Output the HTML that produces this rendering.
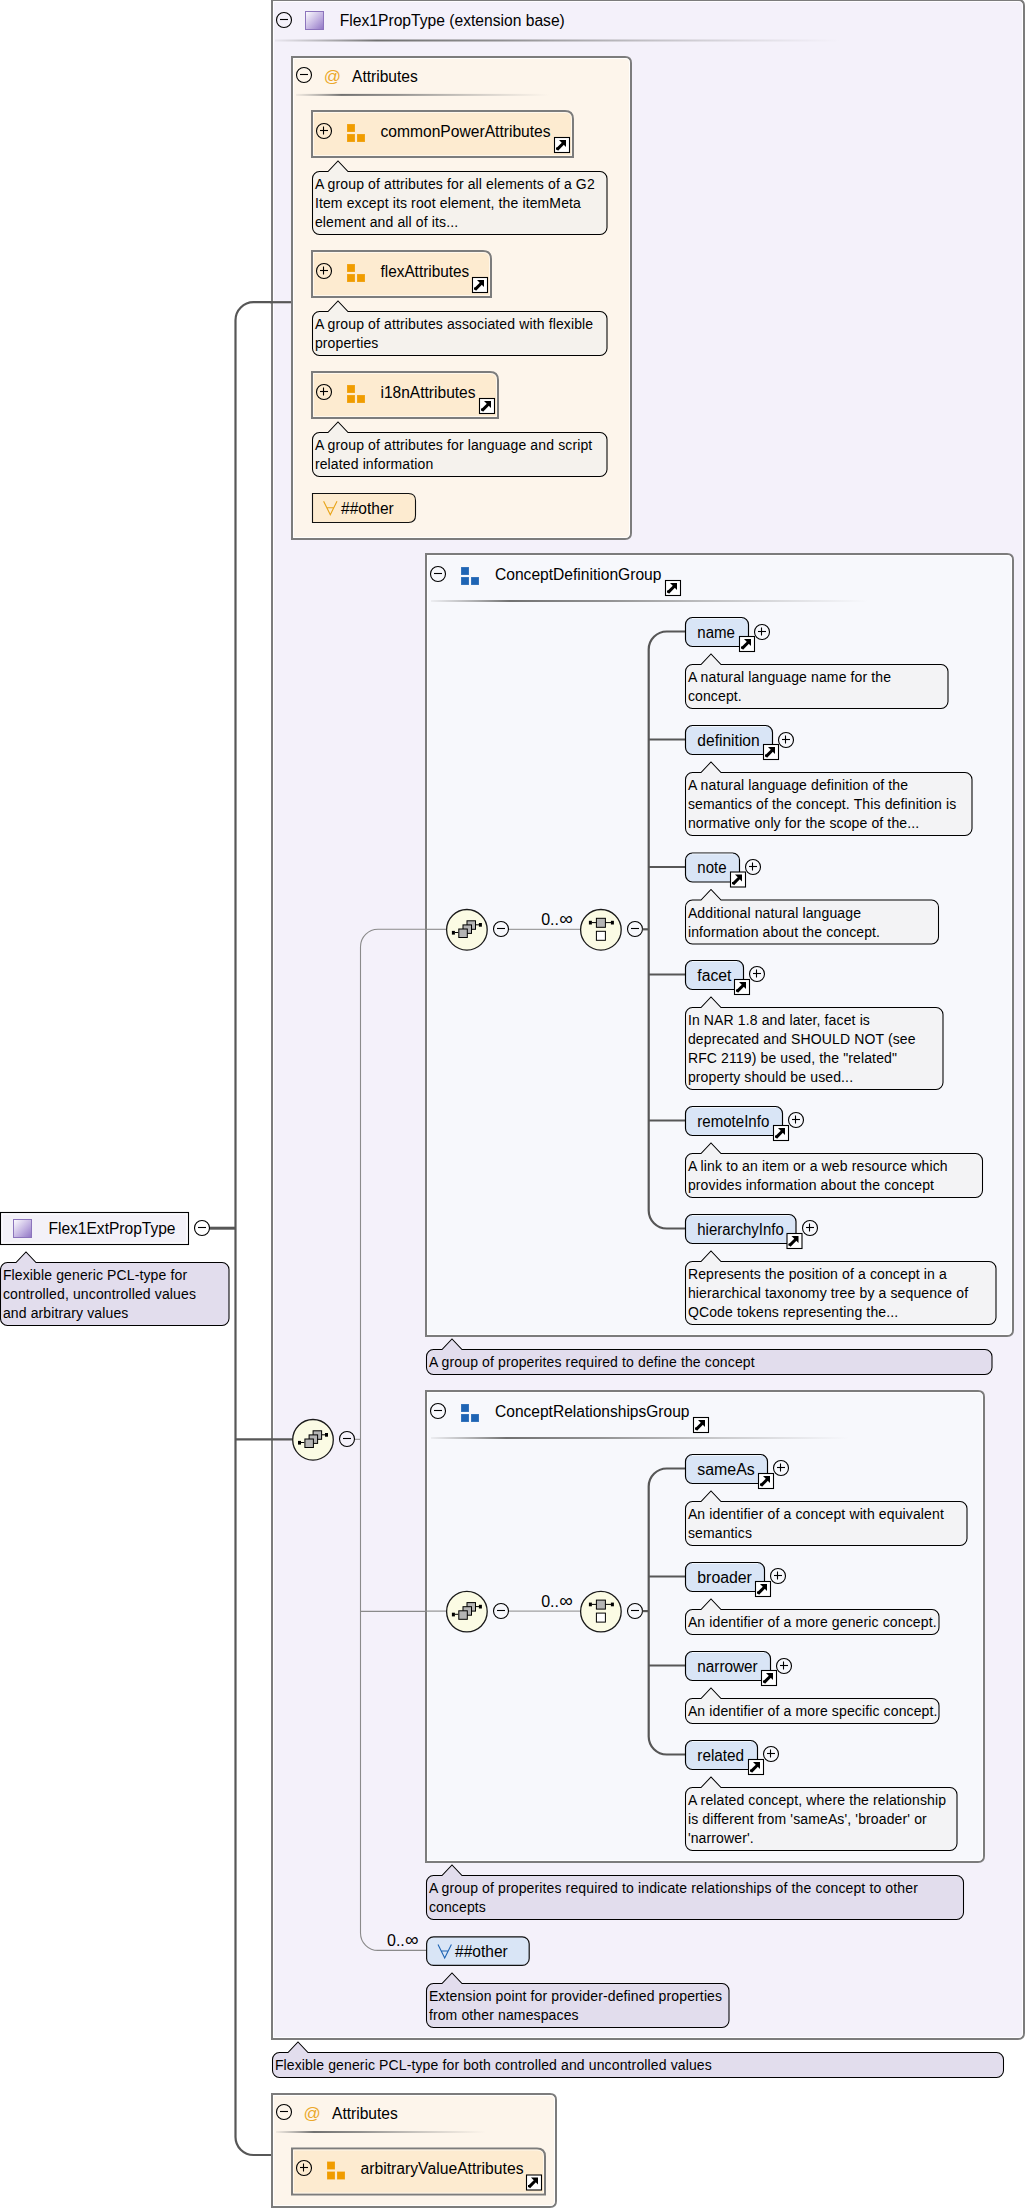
<!DOCTYPE html>
<html><head><meta charset="utf-8"><title>Flex1ExtPropType</title>
<style>
html,body{margin:0;padding:0;background:#fff;width:1026px;height:2209px;overflow:hidden}
svg{display:block}
text{font-family:"Liberation Sans",sans-serif;white-space:pre}
</style></head><body>
<svg width="1026" height="2209" viewBox="0 0 1026 2209">
<defs>
<linearGradient id="gradType" x1="0" y1="0" x2="1" y2="1">
<stop offset="0" stop-color="#ffffff"/><stop offset="0.55" stop-color="#c4b4e2"/><stop offset="1" stop-color="#8f74c4"/>
</linearGradient>
<linearGradient id="gradSep" x1="0" y1="0" x2="1" y2="0">
<stop offset="0" stop-color="#888" stop-opacity="0.1"/><stop offset="0.18" stop-color="#6a6a6a" stop-opacity="0.95"/>
<stop offset="0.4" stop-color="#777" stop-opacity="0.8"/><stop offset="1" stop-color="#999" stop-opacity="0"/>
</linearGradient>
</defs>
<path d="M291,302.2 H253.5 A18,18 0 0 0 235.5,320.2 V2137 A18,18 0 0 0 253.5,2155 H272" fill="none" stroke="#575757" stroke-width="2.2"/>
<path d="M209.5,1228.2 H236" stroke="#575757" stroke-width="3"/>
<rect x="0.5" y="1212.5" width="188" height="32" fill="#f3f1f8" stroke="#000" stroke-width="1.1"/>
<rect x="2" y="1214" width="185" height="29" fill="none" stroke="#fff" stroke-width="1"/>
<rect x="13.5" y="1219.5" width="18" height="18" fill="url(#gradType)" stroke="#8c74bc" stroke-width="1"/>
<text x="48.5" y="1234" font-size="16" letter-spacing="0" fill="#000" textLength="127.0" lengthAdjust="spacingAndGlyphs" >Flex1ExtPropType</text>
<circle cx="202" cy="1228" r="7.5" fill="none" stroke="#000" stroke-width="1.1"/>
<path d="M198,1227.5 H206" stroke="#000" stroke-width="1.1"/>
<path d="M7.5,1262.5 H16 L26,1252.0 L36,1262.5 H222.0 A7,7 0 0 1 229.0,1269.5 V1318.5 A7,7 0 0 1 222.0,1325.5 H7.5 A7,7 0 0 1 0.5,1318.5 V1269.5 A7,7 0 0 1 7.5,1262.5 Z" fill="#e2dded" stroke="#000" stroke-width="1.05"/>
<text x="2.9" y="1280.2" font-size="14" letter-spacing="0.13" fill="#000" >Flexible generic PCL-type for</text>
<text x="2.9" y="1299.2" font-size="14" letter-spacing="0.13" fill="#000" >controlled, uncontrolled values</text>
<text x="2.9" y="1318.2" font-size="14" letter-spacing="0.13" fill="#000" >and arbitrary values</text>
<path d="M272,0 L1018,0 Q1024,0 1024,6 L1024,2033 Q1024,2039 1018,2039 L272,2039 L272,0 Z" fill="#f4f1fa" stroke="#7c7c7c" stroke-width="2"/>
<path d="M273.5,1.5 L1018.0,1.5 Q1022.5,1.5 1022.5,6.0 L1022.5,2033.0 Q1022.5,2037.5 1018.0,2037.5 L273.5,2037.5 L273.5,1.5 Z" fill="none" stroke="#ffffff" stroke-opacity="0.85" stroke-width="1"/>
<circle cx="284" cy="20" r="7.5" fill="none" stroke="#000" stroke-width="1.1"/>
<path d="M280,19.5 H288" stroke="#000" stroke-width="1.1"/>
<rect x="305.5" y="11.5" width="18" height="18" fill="url(#gradType)" stroke="#8c74bc" stroke-width="1"/>
<text x="339.8" y="26" font-size="16" letter-spacing="0" fill="#000" textLength="225.0" lengthAdjust="spacingAndGlyphs" >Flex1PropType (extension base)</text>
<rect x="275" y="39.5" width="565" height="2" fill="url(#gradSep)"/>
<path d="M270,302.2 H291" stroke="#575757" stroke-width="2.2"/>
<path d="M292,57 L625,57 Q631,57 631,63 L631,533 Q631,539 625,539 L292,539 L292,57 Z" fill="#fdf5eb" stroke="#7c7c7c" stroke-width="2"/>
<path d="M293.5,58.5 L625.0,58.5 Q629.5,58.5 629.5,63.0 L629.5,533.0 Q629.5,537.5 625.0,537.5 L293.5,537.5 L293.5,58.5 Z" fill="none" stroke="#ffffff" stroke-opacity="0.85" stroke-width="1"/>
<circle cx="304" cy="75" r="7.5" fill="none" stroke="#000" stroke-width="1.1"/>
<path d="M300,74.5 H308" stroke="#000" stroke-width="1.1"/>
<text x="323.8" y="82.3" font-size="17" letter-spacing="0" fill="#eba82a" >@</text>
<text x="352" y="82.2" font-size="16" letter-spacing="0" fill="#000" textLength="65.8" lengthAdjust="spacingAndGlyphs" >Attributes</text>
<rect x="296" y="93.9" width="253" height="2" fill="url(#gradSep)"/>
<path d="M312,111 L565,111 Q573,111 573,119 L573,157 L312,157 L312,111 Z" fill="#fdebd0" stroke="#7c7c7c" stroke-width="2"/>
<path d="M313.5,112.5 L565.0,112.5 Q571.5,112.5 571.5,119.0 L571.5,155.5 L313.5,155.5 L313.5,112.5 Z" fill="none" stroke="#fff" stroke-opacity="0.6" stroke-width="1"/>
<circle cx="324" cy="131" r="7.5" fill="none" stroke="#000" stroke-width="1.1"/>
<path d="M320,130.5 H328" stroke="#000" stroke-width="1.1"/>
<path d="M323.5,126.5 V134.5" stroke="#000" stroke-width="1.1"/>
<rect x="347.5" y="124.5" width="7" height="7" fill="#f09c00" stroke="#f09c00" stroke-opacity="0.8" stroke-width="1"/>
<rect x="347.5" y="134.5" width="7" height="7" fill="#f09c00" stroke="#f09c00" stroke-opacity="0.8" stroke-width="1"/>
<rect x="357.5" y="134.5" width="7" height="7" fill="#f09c00" stroke="#f09c00" stroke-opacity="0.8" stroke-width="1"/>
<text x="380.5" y="136.8" font-size="16" letter-spacing="0" fill="#000" textLength="170.1" lengthAdjust="spacingAndGlyphs" >commonPowerAttributes</text>
<rect x="554.5" y="137.5" width="15" height="15" fill="#fff" stroke="#000" stroke-width="1.1"/>
<path d="M559,140 H566 V147 Z" fill="#000"/>
<path d="M557,149.6 L563.3,143.3" stroke="#000" stroke-width="3" stroke-linecap="butt"/>
<rect x="556" y="147.5" width="2.2" height="2.2" fill="#000"/>
<path d="M319.5,171.5 H328 L338,161.0 L348,171.5 H600.0 A7,7 0 0 1 607.0,178.5 V227.5 A7,7 0 0 1 600.0,234.5 H319.5 A7,7 0 0 1 312.5,227.5 V178.5 A7,7 0 0 1 319.5,171.5 Z" fill="#f5f2ed" stroke="#000" stroke-width="1.05"/>
<text x="314.9" y="189.2" font-size="14" letter-spacing="0.13" fill="#000" >A group of attributes for all elements of a G2</text>
<text x="314.9" y="208.2" font-size="14" letter-spacing="0.13" fill="#000" >Item except its root element, the itemMeta</text>
<text x="314.9" y="227.2" font-size="14" letter-spacing="0.13" fill="#000" >element and all of its...</text>
<path d="M312,251 L483,251 Q491,251 491,259 L491,297 L312,297 L312,251 Z" fill="#fdebd0" stroke="#7c7c7c" stroke-width="2"/>
<path d="M313.5,252.5 L483.0,252.5 Q489.5,252.5 489.5,259.0 L489.5,295.5 L313.5,295.5 L313.5,252.5 Z" fill="none" stroke="#fff" stroke-opacity="0.6" stroke-width="1"/>
<circle cx="324" cy="271" r="7.5" fill="none" stroke="#000" stroke-width="1.1"/>
<path d="M320,270.5 H328" stroke="#000" stroke-width="1.1"/>
<path d="M323.5,266.5 V274.5" stroke="#000" stroke-width="1.1"/>
<rect x="347.5" y="264.5" width="7" height="7" fill="#f09c00" stroke="#f09c00" stroke-opacity="0.8" stroke-width="1"/>
<rect x="347.5" y="274.5" width="7" height="7" fill="#f09c00" stroke="#f09c00" stroke-opacity="0.8" stroke-width="1"/>
<rect x="357.5" y="274.5" width="7" height="7" fill="#f09c00" stroke="#f09c00" stroke-opacity="0.8" stroke-width="1"/>
<text x="380.5" y="276.8" font-size="16" letter-spacing="0" fill="#000" textLength="88.7" lengthAdjust="spacingAndGlyphs" >flexAttributes</text>
<rect x="472.5" y="277.5" width="15" height="15" fill="#fff" stroke="#000" stroke-width="1.1"/>
<path d="M477,280 H484 V287 Z" fill="#000"/>
<path d="M475,289.6 L481.3,283.3" stroke="#000" stroke-width="3" stroke-linecap="butt"/>
<rect x="474" y="287.5" width="2.2" height="2.2" fill="#000"/>
<path d="M319.5,311.5 H328 L338,301.0 L348,311.5 H600.0 A7,7 0 0 1 607.0,318.5 V348.5 A7,7 0 0 1 600.0,355.5 H319.5 A7,7 0 0 1 312.5,348.5 V318.5 A7,7 0 0 1 319.5,311.5 Z" fill="#f5f2ed" stroke="#000" stroke-width="1.05"/>
<text x="314.9" y="329.2" font-size="14" letter-spacing="0.13" fill="#000" >A group of attributes associated with flexible</text>
<text x="314.9" y="348.2" font-size="14" letter-spacing="0.13" fill="#000" >properties</text>
<path d="M312,372 L490,372 Q498,372 498,380 L498,418 L312,418 L312,372 Z" fill="#fdebd0" stroke="#7c7c7c" stroke-width="2"/>
<path d="M313.5,373.5 L490.0,373.5 Q496.5,373.5 496.5,380.0 L496.5,416.5 L313.5,416.5 L313.5,373.5 Z" fill="none" stroke="#fff" stroke-opacity="0.6" stroke-width="1"/>
<circle cx="324" cy="392" r="7.5" fill="none" stroke="#000" stroke-width="1.1"/>
<path d="M320,391.5 H328" stroke="#000" stroke-width="1.1"/>
<path d="M323.5,387.5 V395.5" stroke="#000" stroke-width="1.1"/>
<rect x="347.5" y="385.5" width="7" height="7" fill="#f09c00" stroke="#f09c00" stroke-opacity="0.8" stroke-width="1"/>
<rect x="347.5" y="395.5" width="7" height="7" fill="#f09c00" stroke="#f09c00" stroke-opacity="0.8" stroke-width="1"/>
<rect x="357.5" y="395.5" width="7" height="7" fill="#f09c00" stroke="#f09c00" stroke-opacity="0.8" stroke-width="1"/>
<text x="380.5" y="397.8" font-size="16" letter-spacing="0" fill="#000" textLength="95.0" lengthAdjust="spacingAndGlyphs" >i18nAttributes</text>
<rect x="479.5" y="398.5" width="15" height="15" fill="#fff" stroke="#000" stroke-width="1.1"/>
<path d="M484,401 H491 V408 Z" fill="#000"/>
<path d="M482,410.6 L488.3,404.3" stroke="#000" stroke-width="3" stroke-linecap="butt"/>
<rect x="481" y="408.5" width="2.2" height="2.2" fill="#000"/>
<path d="M319.5,432.5 H328 L338,422.0 L348,432.5 H600.0 A7,7 0 0 1 607.0,439.5 V469.5 A7,7 0 0 1 600.0,476.5 H319.5 A7,7 0 0 1 312.5,469.5 V439.5 A7,7 0 0 1 319.5,432.5 Z" fill="#f5f2ed" stroke="#000" stroke-width="1.05"/>
<text x="314.9" y="450.2" font-size="14" letter-spacing="0.13" fill="#000" >A group of attributes for language and script</text>
<text x="314.9" y="469.2" font-size="14" letter-spacing="0.13" fill="#000" >related information</text>
<path d="M312.5,493.5 L408.5,493.5 Q415.5,493.5 415.5,500.5 L415.5,515.5 Q415.5,522.5 408.5,522.5 L312.5,522.5 L312.5,493.5 Z" fill="#fdebd0" stroke="#111" stroke-width="1.1"/>
<path d="M323.6,501.2 L330.3,514.7 L337.0,501.2 M326.8,507.7 H333.8" fill="none" stroke="#e8a317" stroke-width="1.1"/>
<text x="341" y="513.6" font-size="16" letter-spacing="0" fill="#000" textLength="52.7" lengthAdjust="spacingAndGlyphs" >##other</text>
<path d="M235.5,1439.4 H292.5" stroke="#575757" stroke-width="2.2"/>
<circle cx="313" cy="1439.8" r="20.3" fill="#fbfbe4" stroke="#1a1a1a" stroke-width="1.3"/>
<path d="M301,1442.5 H304.4 M322,1434.8 H325.5" stroke="#000" stroke-width="1"/>
<rect x="298" y="1440.8999999999999" width="3" height="3.7" fill="#000"/>
<rect x="325" y="1433.0" width="3" height="3.7" fill="#000"/>
<rect x="313.1" y="1430.8" width="8.5" height="8.5" fill="#b4b4b4" stroke="#000" stroke-width="1"/>
<rect x="309.1" y="1434.8999999999999" width="8.5" height="8.5" fill="#b4b4b4" stroke="#000" stroke-width="1"/>
<rect x="304.9" y="1439.0" width="8.5" height="8.5" fill="#b4b4b4" stroke="#000" stroke-width="1"/>
<circle cx="347" cy="1439" r="7.5" fill="none" stroke="#000" stroke-width="1.1"/>
<path d="M343,1438.5 H351" stroke="#000" stroke-width="1.1"/>
<path d="M355,1439.3 H361" stroke="#8a8a8a" stroke-width="1"/>
<path d="M446,929.3 H378.0 A17.5,17.5 0 0 0 360.5,946.8 V1932.9 A17.5,17.5 0 0 0 378.0,1950.4 H426" fill="none" stroke="#8a8a8a" stroke-width="1.1"/>
<path d="M360.5,1611.4 H446" stroke="#8a8a8a" stroke-width="1.1"/>
<path d="M426,554 L1007,554 Q1013,554 1013,560 L1013,1330 Q1013,1336 1007,1336 L426,1336 L426,554 Z" fill="#f7f8fc" stroke="#7c7c7c" stroke-width="2"/>
<path d="M427.5,555.5 L1007.0,555.5 Q1011.5,555.5 1011.5,560.0 L1011.5,1330.0 Q1011.5,1334.5 1007.0,1334.5 L427.5,1334.5 L427.5,555.5 Z" fill="none" stroke="#ffffff" stroke-opacity="0.85" stroke-width="1"/>
<circle cx="438" cy="574" r="7.5" fill="none" stroke="#000" stroke-width="1.1"/>
<path d="M434,573.5 H442" stroke="#000" stroke-width="1.1"/>
<rect x="461.5" y="567.5" width="7" height="7" fill="#1e64b4" stroke="#1e64b4" stroke-opacity="0.8" stroke-width="1"/>
<rect x="461.5" y="577.5" width="7" height="7" fill="#1e64b4" stroke="#1e64b4" stroke-opacity="0.8" stroke-width="1"/>
<rect x="471.5" y="577.5" width="7" height="7" fill="#1e64b4" stroke="#1e64b4" stroke-opacity="0.8" stroke-width="1"/>
<text x="495" y="580" font-size="16" letter-spacing="0" fill="#000" textLength="166.4" lengthAdjust="spacingAndGlyphs" >ConceptDefinitionGroup</text>
<rect x="665.5" y="580.5" width="15" height="15" fill="#fff" stroke="#000" stroke-width="1.1"/>
<path d="M670,583 H677 V590 Z" fill="#000"/>
<path d="M668,592.6 L674.3,586.3" stroke="#000" stroke-width="3" stroke-linecap="butt"/>
<rect x="667" y="590.5" width="2.2" height="2.2" fill="#000"/>
<rect x="431" y="600" width="437" height="2" fill="url(#gradSep)"/>
<path d="M425,929.3 H447" stroke="#8a8a8a" stroke-width="1.1"/>
<circle cx="466.9" cy="929.8" r="20.3" fill="#fbfbe4" stroke="#1a1a1a" stroke-width="1.3"/>
<path d="M454.9,932.5 H458.29999999999995 M475.9,924.8 H479.4" stroke="#000" stroke-width="1"/>
<rect x="451.9" y="930.9" width="3" height="3.7" fill="#000"/>
<rect x="478.9" y="923.0" width="3" height="3.7" fill="#000"/>
<rect x="467.0" y="920.8" width="8.5" height="8.5" fill="#b4b4b4" stroke="#000" stroke-width="1"/>
<rect x="463.0" y="924.9" width="8.5" height="8.5" fill="#b4b4b4" stroke="#000" stroke-width="1"/>
<rect x="458.79999999999995" y="929.0" width="8.5" height="8.5" fill="#b4b4b4" stroke="#000" stroke-width="1"/>
<circle cx="501" cy="929" r="7.5" fill="none" stroke="#000" stroke-width="1.1"/>
<path d="M497,928.5 H505" stroke="#000" stroke-width="1.1"/>
<path d="M509,929.3 H580.5" stroke="#8a8a8a" stroke-width="1"/>
<text x="541.2" y="924.8" font-size="16" fill="#000">0..<tspan font-size="19" dx="0.3">∞</tspan></text>
<circle cx="600.9" cy="929.8" r="20.3" fill="#fbfbe4" stroke="#1a1a1a" stroke-width="1.3"/>
<path d="M591.9,922.5999999999999 H611.9" stroke="#000" stroke-width="1"/>
<rect x="588.9" y="920.8" width="3" height="3.7" fill="#000"/>
<rect x="610.9" y="920.8" width="3" height="3.7" fill="#000"/>
<rect x="596.4" y="918.3" width="9" height="9" fill="#b4b4b4" stroke="#000" stroke-width="1"/>
<rect x="596.4" y="931.3" width="9" height="9" fill="#fff" stroke="#000" stroke-width="1"/>
<circle cx="635" cy="929" r="7.5" fill="none" stroke="#000" stroke-width="1.1"/>
<path d="M631,928.5 H639" stroke="#000" stroke-width="1.1"/>
<path d="M642.5,929.3 H649" stroke="#575757" stroke-width="2.2"/>
<path d="M685,631.5 H666.7 A18,18 0 0 0 648.7,649.5 V1210.5 A18,18 0 0 0 666.7,1228.5 H685" fill="none" stroke="#575757" stroke-width="2.2"/>
<path d="M648.7,739.5 H685" stroke="#575757" stroke-width="2.2"/>
<path d="M648.7,867.0 H685" stroke="#575757" stroke-width="2.2"/>
<path d="M648.7,974.5 H685" stroke="#575757" stroke-width="2.2"/>
<path d="M648.7,1120.5 H685" stroke="#575757" stroke-width="2.2"/>
<path d="M692.5,617.5 H741.5 A7,7 0 0 1 748.5,624.5 V639.5 A7,7 0 0 1 741.5,646.5 H692.5 A7,7 0 0 1 685.5,639.5 V624.5 A7,7 0 0 1 692.5,617.5 Z" fill="#d9e5f6" stroke="#000" stroke-width="1.15"/>
<path d="M692,618.5 H742" stroke="#fff" stroke-opacity="0.6" stroke-width="1"/>
<text x="697.3" y="637.8" font-size="16" letter-spacing="0" fill="#000" textLength="37.7" lengthAdjust="spacingAndGlyphs" >name</text>
<rect x="739.5" y="636.5" width="15" height="15" fill="#fff" stroke="#000" stroke-width="1.1"/>
<path d="M744,639 H751 V646 Z" fill="#000"/>
<path d="M742,648.6 L748.3,642.3" stroke="#000" stroke-width="3" stroke-linecap="butt"/>
<rect x="741" y="646.5" width="2.2" height="2.2" fill="#000"/>
<circle cx="762" cy="632" r="7.5" fill="none" stroke="#000" stroke-width="1.1"/>
<path d="M758,631.5 H766" stroke="#000" stroke-width="1.1"/>
<path d="M761.5,627.5 V635.5" stroke="#000" stroke-width="1.1"/>
<path d="M692.5,664.5 H701 L711,654.0 L721,664.5 H941.0 A7,7 0 0 1 948.0,671.5 V701.5 A7,7 0 0 1 941.0,708.5 H692.5 A7,7 0 0 1 685.5,701.5 V671.5 A7,7 0 0 1 692.5,664.5 Z" fill="#f3f3f5" stroke="#000" stroke-width="1.05"/>
<text x="687.9" y="682.2" font-size="14" letter-spacing="0.13" fill="#000" >A natural language name for the</text>
<text x="687.9" y="701.2" font-size="14" letter-spacing="0.13" fill="#000" >concept.</text>
<path d="M692.5,725.5 H765.5 A7,7 0 0 1 772.5,732.5 V747.5 A7,7 0 0 1 765.5,754.5 H692.5 A7,7 0 0 1 685.5,747.5 V732.5 A7,7 0 0 1 692.5,725.5 Z" fill="#d9e5f6" stroke="#000" stroke-width="1.15"/>
<path d="M692,726.5 H766" stroke="#fff" stroke-opacity="0.6" stroke-width="1"/>
<text x="697.3" y="745.8" font-size="16" letter-spacing="0" fill="#000" textLength="62.4" lengthAdjust="spacingAndGlyphs" >definition</text>
<rect x="763.5" y="744.5" width="15" height="15" fill="#fff" stroke="#000" stroke-width="1.1"/>
<path d="M768,747 H775 V754 Z" fill="#000"/>
<path d="M766,756.6 L772.3,750.3" stroke="#000" stroke-width="3" stroke-linecap="butt"/>
<rect x="765" y="754.5" width="2.2" height="2.2" fill="#000"/>
<circle cx="786" cy="740" r="7.5" fill="none" stroke="#000" stroke-width="1.1"/>
<path d="M782,739.5 H790" stroke="#000" stroke-width="1.1"/>
<path d="M785.5,735.5 V743.5" stroke="#000" stroke-width="1.1"/>
<path d="M692.5,772.5 H701 L711,762.0 L721,772.5 H965.0 A7,7 0 0 1 972.0,779.5 V828.5 A7,7 0 0 1 965.0,835.5 H692.5 A7,7 0 0 1 685.5,828.5 V779.5 A7,7 0 0 1 692.5,772.5 Z" fill="#f3f3f5" stroke="#000" stroke-width="1.05"/>
<text x="687.9" y="790.2" font-size="14" letter-spacing="0.13" fill="#000" >A natural language definition of the</text>
<text x="687.9" y="809.2" font-size="14" letter-spacing="0.13" fill="#000" >semantics of the concept. This definition is</text>
<text x="687.9" y="828.2" font-size="14" letter-spacing="0.13" fill="#000" >normative only for the scope of the...</text>
<path d="M692.5,853.0 H732.5 A7,7 0 0 1 739.5,860.0 V875.0 A7,7 0 0 1 732.5,882.0 H692.5 A7,7 0 0 1 685.5,875.0 V860.0 A7,7 0 0 1 692.5,853.0 Z" fill="#d9e5f6" stroke="#000" stroke-width="1.15"/>
<path d="M692,854.0 H733" stroke="#fff" stroke-opacity="0.6" stroke-width="1"/>
<text x="697.3" y="873.3" font-size="16" letter-spacing="0" fill="#000" textLength="29.2" lengthAdjust="spacingAndGlyphs" >note</text>
<rect x="730.5" y="872.0" width="15" height="15" fill="#fff" stroke="#000" stroke-width="1.1"/>
<path d="M735,874.5 H742 V881.5 Z" fill="#000"/>
<path d="M733,884.1 L739.3,877.8" stroke="#000" stroke-width="3" stroke-linecap="butt"/>
<rect x="732" y="882.0" width="2.2" height="2.2" fill="#000"/>
<circle cx="753" cy="867" r="7.5" fill="none" stroke="#000" stroke-width="1.1"/>
<path d="M749,866.5 H757" stroke="#000" stroke-width="1.1"/>
<path d="M752.5,862.5 V870.5" stroke="#000" stroke-width="1.1"/>
<path d="M692.5,900.0 H701 L711,889.5 L721,900.0 H931.5 A7,7 0 0 1 938.5,907.0 V937.0 A7,7 0 0 1 931.5,944.0 H692.5 A7,7 0 0 1 685.5,937.0 V907.0 A7,7 0 0 1 692.5,900.0 Z" fill="#f3f3f5" stroke="#000" stroke-width="1.05"/>
<text x="687.9" y="917.7" font-size="14" letter-spacing="0.13" fill="#000" >Additional natural language</text>
<text x="687.9" y="936.7" font-size="14" letter-spacing="0.13" fill="#000" >information about the concept.</text>
<path d="M692.5,960.5 H736.5 A7,7 0 0 1 743.5,967.5 V982.5 A7,7 0 0 1 736.5,989.5 H692.5 A7,7 0 0 1 685.5,982.5 V967.5 A7,7 0 0 1 692.5,960.5 Z" fill="#d9e5f6" stroke="#000" stroke-width="1.15"/>
<path d="M692,961.5 H737" stroke="#fff" stroke-opacity="0.6" stroke-width="1"/>
<text x="697.3" y="980.8" font-size="16" letter-spacing="0" fill="#000" textLength="34.1" lengthAdjust="spacingAndGlyphs" >facet</text>
<rect x="734.5" y="979.5" width="15" height="15" fill="#fff" stroke="#000" stroke-width="1.1"/>
<path d="M739,982 H746 V989 Z" fill="#000"/>
<path d="M737,991.6 L743.3,985.3" stroke="#000" stroke-width="3" stroke-linecap="butt"/>
<rect x="736" y="989.5" width="2.2" height="2.2" fill="#000"/>
<circle cx="757" cy="974" r="7.5" fill="none" stroke="#000" stroke-width="1.1"/>
<path d="M753,973.5 H761" stroke="#000" stroke-width="1.1"/>
<path d="M756.5,969.5 V977.5" stroke="#000" stroke-width="1.1"/>
<path d="M692.5,1007.5 H701 L711,997.0 L721,1007.5 H936.0 A7,7 0 0 1 943.0,1014.5 V1082.5 A7,7 0 0 1 936.0,1089.5 H692.5 A7,7 0 0 1 685.5,1082.5 V1014.5 A7,7 0 0 1 692.5,1007.5 Z" fill="#f3f3f5" stroke="#000" stroke-width="1.05"/>
<text x="687.9" y="1025.2" font-size="14" letter-spacing="0.13" fill="#000" >In NAR 1.8 and later, facet is</text>
<text x="687.9" y="1044.2" font-size="14" letter-spacing="0.13" fill="#000" >deprecated and SHOULD NOT (see</text>
<text x="687.9" y="1063.2" font-size="14" letter-spacing="0.13" fill="#000" >RFC 2119) be used, the "related"</text>
<text x="687.9" y="1082.2" font-size="14" letter-spacing="0.13" fill="#000" >property should be used...</text>
<path d="M692.5,1106.5 H775.5 A7,7 0 0 1 782.5,1113.5 V1128.5 A7,7 0 0 1 775.5,1135.5 H692.5 A7,7 0 0 1 685.5,1128.5 V1113.5 A7,7 0 0 1 692.5,1106.5 Z" fill="#d9e5f6" stroke="#000" stroke-width="1.15"/>
<path d="M692,1107.5 H776" stroke="#fff" stroke-opacity="0.6" stroke-width="1"/>
<text x="697.3" y="1126.8" font-size="16" letter-spacing="0" fill="#000" textLength="72.0" lengthAdjust="spacingAndGlyphs" >remoteInfo</text>
<rect x="773.5" y="1125.5" width="15" height="15" fill="#fff" stroke="#000" stroke-width="1.1"/>
<path d="M778,1128 H785 V1135 Z" fill="#000"/>
<path d="M776,1137.6 L782.3,1131.3" stroke="#000" stroke-width="3" stroke-linecap="butt"/>
<rect x="775" y="1135.5" width="2.2" height="2.2" fill="#000"/>
<circle cx="796" cy="1120" r="7.5" fill="none" stroke="#000" stroke-width="1.1"/>
<path d="M792,1119.5 H800" stroke="#000" stroke-width="1.1"/>
<path d="M795.5,1115.5 V1123.5" stroke="#000" stroke-width="1.1"/>
<path d="M692.5,1153.5 H701 L711,1143.0 L721,1153.5 H975.5 A7,7 0 0 1 982.5,1160.5 V1190.5 A7,7 0 0 1 975.5,1197.5 H692.5 A7,7 0 0 1 685.5,1190.5 V1160.5 A7,7 0 0 1 692.5,1153.5 Z" fill="#f3f3f5" stroke="#000" stroke-width="1.05"/>
<text x="687.9" y="1171.2" font-size="14" letter-spacing="0.13" fill="#000" >A link to an item or a web resource which</text>
<text x="687.9" y="1190.2" font-size="14" letter-spacing="0.13" fill="#000" >provides information about the concept</text>
<path d="M692.5,1214.5 H789.0 A7,7 0 0 1 796.0,1221.5 V1236.5 A7,7 0 0 1 789.0,1243.5 H692.5 A7,7 0 0 1 685.5,1236.5 V1221.5 A7,7 0 0 1 692.5,1214.5 Z" fill="#d9e5f6" stroke="#000" stroke-width="1.15"/>
<path d="M692,1215.5 H789.5" stroke="#fff" stroke-opacity="0.6" stroke-width="1"/>
<text x="697.3" y="1234.8" font-size="16" letter-spacing="0" fill="#000" textLength="86.4" lengthAdjust="spacingAndGlyphs" >hierarchyInfo</text>
<rect x="787.0" y="1233.5" width="15" height="15" fill="#fff" stroke="#000" stroke-width="1.1"/>
<path d="M791.5,1236 H798.5 V1243 Z" fill="#000"/>
<path d="M789.5,1245.6 L795.8,1239.3" stroke="#000" stroke-width="3" stroke-linecap="butt"/>
<rect x="788.5" y="1243.5" width="2.2" height="2.2" fill="#000"/>
<circle cx="810" cy="1228" r="7.5" fill="none" stroke="#000" stroke-width="1.1"/>
<path d="M806,1227.5 H814" stroke="#000" stroke-width="1.1"/>
<path d="M809.5,1223.5 V1231.5" stroke="#000" stroke-width="1.1"/>
<path d="M692.5,1261.5 H701 L711,1251.0 L721,1261.5 H989.0 A7,7 0 0 1 996.0,1268.5 V1317.5 A7,7 0 0 1 989.0,1324.5 H692.5 A7,7 0 0 1 685.5,1317.5 V1268.5 A7,7 0 0 1 692.5,1261.5 Z" fill="#f3f3f5" stroke="#000" stroke-width="1.05"/>
<text x="687.9" y="1279.2" font-size="14" letter-spacing="0.13" fill="#000" >Represents the position of a concept in a</text>
<text x="687.9" y="1298.2" font-size="14" letter-spacing="0.13" fill="#000" >hierarchical taxonomy tree by a sequence of</text>
<text x="687.9" y="1317.2" font-size="14" letter-spacing="0.13" fill="#000" >QCode tokens representing the...</text>
<path d="M433.5,1349.5 H442 L452,1339.0 L462,1349.5 H985.0 A7,7 0 0 1 992.0,1356.5 V1367.5 A7,7 0 0 1 985.0,1374.5 H433.5 A7,7 0 0 1 426.5,1367.5 V1356.5 A7,7 0 0 1 433.5,1349.5 Z" fill="#e2dded" stroke="#000" stroke-width="1.05"/>
<text x="428.9" y="1367.2" font-size="14" letter-spacing="0.13" fill="#000" >A group of properites required to define the concept</text>
<path d="M426,1391 L978,1391 Q984,1391 984,1397 L984,1856 Q984,1862 978,1862 L426,1862 L426,1391 Z" fill="#f7f8fc" stroke="#7c7c7c" stroke-width="2"/>
<path d="M427.5,1392.5 L978.0,1392.5 Q982.5,1392.5 982.5,1397.0 L982.5,1856.0 Q982.5,1860.5 978.0,1860.5 L427.5,1860.5 L427.5,1392.5 Z" fill="none" stroke="#ffffff" stroke-opacity="0.85" stroke-width="1"/>
<circle cx="438" cy="1411" r="7.5" fill="none" stroke="#000" stroke-width="1.1"/>
<path d="M434,1410.5 H442" stroke="#000" stroke-width="1.1"/>
<rect x="461.5" y="1404.5" width="7" height="7" fill="#1e64b4" stroke="#1e64b4" stroke-opacity="0.8" stroke-width="1"/>
<rect x="461.5" y="1414.5" width="7" height="7" fill="#1e64b4" stroke="#1e64b4" stroke-opacity="0.8" stroke-width="1"/>
<rect x="471.5" y="1414.5" width="7" height="7" fill="#1e64b4" stroke="#1e64b4" stroke-opacity="0.8" stroke-width="1"/>
<text x="495" y="1417" font-size="16" letter-spacing="0" fill="#000" textLength="194.5" lengthAdjust="spacingAndGlyphs" >ConceptRelationshipsGroup</text>
<rect x="693.5" y="1417.5" width="15" height="15" fill="#fff" stroke="#000" stroke-width="1.1"/>
<path d="M698,1420 H705 V1427 Z" fill="#000"/>
<path d="M696,1429.6 L702.3,1423.3" stroke="#000" stroke-width="3" stroke-linecap="butt"/>
<rect x="695" y="1427.5" width="2.2" height="2.2" fill="#000"/>
<rect x="431" y="1437" width="418" height="2" fill="url(#gradSep)"/>
<path d="M425,1611.1 H447" stroke="#8a8a8a" stroke-width="1.1"/>
<circle cx="466.9" cy="1611.6" r="20.3" fill="#fbfbe4" stroke="#1a1a1a" stroke-width="1.3"/>
<path d="M454.9,1614.3 H458.29999999999995 M475.9,1606.6 H479.4" stroke="#000" stroke-width="1"/>
<rect x="451.9" y="1612.6999999999998" width="3" height="3.7" fill="#000"/>
<rect x="478.9" y="1604.8" width="3" height="3.7" fill="#000"/>
<rect x="467.0" y="1602.6" width="8.5" height="8.5" fill="#b4b4b4" stroke="#000" stroke-width="1"/>
<rect x="463.0" y="1606.6999999999998" width="8.5" height="8.5" fill="#b4b4b4" stroke="#000" stroke-width="1"/>
<rect x="458.79999999999995" y="1610.8" width="8.5" height="8.5" fill="#b4b4b4" stroke="#000" stroke-width="1"/>
<circle cx="501" cy="1611" r="7.5" fill="none" stroke="#000" stroke-width="1.1"/>
<path d="M497,1610.5 H505" stroke="#000" stroke-width="1.1"/>
<path d="M509,1611.1 H580.5" stroke="#8a8a8a" stroke-width="1"/>
<text x="541.2" y="1606.6" font-size="16" fill="#000">0..<tspan font-size="19" dx="0.3">∞</tspan></text>
<circle cx="600.9" cy="1611.6" r="20.3" fill="#fbfbe4" stroke="#1a1a1a" stroke-width="1.3"/>
<path d="M591.9,1604.3999999999999 H611.9" stroke="#000" stroke-width="1"/>
<rect x="588.9" y="1602.6" width="3" height="3.7" fill="#000"/>
<rect x="610.9" y="1602.6" width="3" height="3.7" fill="#000"/>
<rect x="596.4" y="1600.1" width="9" height="9" fill="#b4b4b4" stroke="#000" stroke-width="1"/>
<rect x="596.4" y="1613.1" width="9" height="9" fill="#fff" stroke="#000" stroke-width="1"/>
<circle cx="635" cy="1611" r="7.5" fill="none" stroke="#000" stroke-width="1.1"/>
<path d="M631,1610.5 H639" stroke="#000" stroke-width="1.1"/>
<path d="M642.5,1611.1 H649" stroke="#575757" stroke-width="2.2"/>
<path d="M685,1468.5 H666.7 A18,18 0 0 0 648.7,1486.5 V1736.5 A18,18 0 0 0 666.7,1754.5 H685" fill="none" stroke="#575757" stroke-width="2.2"/>
<path d="M648.7,1576.5 H685" stroke="#575757" stroke-width="2.2"/>
<path d="M648.7,1665.5 H685" stroke="#575757" stroke-width="2.2"/>
<path d="M692.5,1454.5 H760.5 A7,7 0 0 1 767.5,1461.5 V1476.5 A7,7 0 0 1 760.5,1483.5 H692.5 A7,7 0 0 1 685.5,1476.5 V1461.5 A7,7 0 0 1 692.5,1454.5 Z" fill="#d9e5f6" stroke="#000" stroke-width="1.15"/>
<path d="M692,1455.5 H761" stroke="#fff" stroke-opacity="0.6" stroke-width="1"/>
<text x="697.3" y="1474.8" font-size="16" letter-spacing="0" fill="#000" textLength="57.5" lengthAdjust="spacingAndGlyphs" >sameAs</text>
<rect x="758.5" y="1473.5" width="15" height="15" fill="#fff" stroke="#000" stroke-width="1.1"/>
<path d="M763,1476 H770 V1483 Z" fill="#000"/>
<path d="M761,1485.6 L767.3,1479.3" stroke="#000" stroke-width="3" stroke-linecap="butt"/>
<rect x="760" y="1483.5" width="2.2" height="2.2" fill="#000"/>
<circle cx="781" cy="1468" r="7.5" fill="none" stroke="#000" stroke-width="1.1"/>
<path d="M777,1467.5 H785" stroke="#000" stroke-width="1.1"/>
<path d="M780.5,1463.5 V1471.5" stroke="#000" stroke-width="1.1"/>
<path d="M692.5,1501.5 H701 L711,1491.0 L721,1501.5 H960.0 A7,7 0 0 1 967.0,1508.5 V1538.5 A7,7 0 0 1 960.0,1545.5 H692.5 A7,7 0 0 1 685.5,1538.5 V1508.5 A7,7 0 0 1 692.5,1501.5 Z" fill="#f3f3f5" stroke="#000" stroke-width="1.05"/>
<text x="687.9" y="1519.2" font-size="14" letter-spacing="0.13" fill="#000" >An identifier of a concept with equivalent</text>
<text x="687.9" y="1538.2" font-size="14" letter-spacing="0.13" fill="#000" >semantics</text>
<path d="M692.5,1562.5 H757.5 A7,7 0 0 1 764.5,1569.5 V1584.5 A7,7 0 0 1 757.5,1591.5 H692.5 A7,7 0 0 1 685.5,1584.5 V1569.5 A7,7 0 0 1 692.5,1562.5 Z" fill="#d9e5f6" stroke="#000" stroke-width="1.15"/>
<path d="M692,1563.5 H758" stroke="#fff" stroke-opacity="0.6" stroke-width="1"/>
<text x="697.3" y="1582.8" font-size="16" letter-spacing="0" fill="#000" textLength="54.6" lengthAdjust="spacingAndGlyphs" >broader</text>
<rect x="755.5" y="1581.5" width="15" height="15" fill="#fff" stroke="#000" stroke-width="1.1"/>
<path d="M760,1584 H767 V1591 Z" fill="#000"/>
<path d="M758,1593.6 L764.3,1587.3" stroke="#000" stroke-width="3" stroke-linecap="butt"/>
<rect x="757" y="1591.5" width="2.2" height="2.2" fill="#000"/>
<circle cx="778" cy="1576" r="7.5" fill="none" stroke="#000" stroke-width="1.1"/>
<path d="M774,1575.5 H782" stroke="#000" stroke-width="1.1"/>
<path d="M777.5,1571.5 V1579.5" stroke="#000" stroke-width="1.1"/>
<path d="M692.5,1609.5 H701 L711,1599.0 L721,1609.5 H932.0 A7,7 0 0 1 939.0,1616.5 V1627.5 A7,7 0 0 1 932.0,1634.5 H692.5 A7,7 0 0 1 685.5,1627.5 V1616.5 A7,7 0 0 1 692.5,1609.5 Z" fill="#f3f3f5" stroke="#000" stroke-width="1.05"/>
<text x="687.9" y="1627.2" font-size="14" letter-spacing="0.13" fill="#000" >An identifier of a more generic concept.</text>
<path d="M692.5,1651.5 H763.5 A7,7 0 0 1 770.5,1658.5 V1673.5 A7,7 0 0 1 763.5,1680.5 H692.5 A7,7 0 0 1 685.5,1673.5 V1658.5 A7,7 0 0 1 692.5,1651.5 Z" fill="#d9e5f6" stroke="#000" stroke-width="1.15"/>
<path d="M692,1652.5 H764" stroke="#fff" stroke-opacity="0.6" stroke-width="1"/>
<text x="697.3" y="1671.8" font-size="16" letter-spacing="0" fill="#000" textLength="60.4" lengthAdjust="spacingAndGlyphs" >narrower</text>
<rect x="761.5" y="1670.5" width="15" height="15" fill="#fff" stroke="#000" stroke-width="1.1"/>
<path d="M766,1673 H773 V1680 Z" fill="#000"/>
<path d="M764,1682.6 L770.3,1676.3" stroke="#000" stroke-width="3" stroke-linecap="butt"/>
<rect x="763" y="1680.5" width="2.2" height="2.2" fill="#000"/>
<circle cx="784" cy="1666" r="7.5" fill="none" stroke="#000" stroke-width="1.1"/>
<path d="M780,1665.5 H788" stroke="#000" stroke-width="1.1"/>
<path d="M783.5,1661.5 V1669.5" stroke="#000" stroke-width="1.1"/>
<path d="M692.5,1698.5 H701 L711,1688.0 L721,1698.5 H932.0 A7,7 0 0 1 939.0,1705.5 V1716.5 A7,7 0 0 1 932.0,1723.5 H692.5 A7,7 0 0 1 685.5,1716.5 V1705.5 A7,7 0 0 1 692.5,1698.5 Z" fill="#f3f3f5" stroke="#000" stroke-width="1.05"/>
<text x="687.9" y="1716.2" font-size="14" letter-spacing="0.13" fill="#000" >An identifier of a more specific concept.</text>
<path d="M692.5,1740.5 H750.5 A7,7 0 0 1 757.5,1747.5 V1762.5 A7,7 0 0 1 750.5,1769.5 H692.5 A7,7 0 0 1 685.5,1762.5 V1747.5 A7,7 0 0 1 692.5,1740.5 Z" fill="#d9e5f6" stroke="#000" stroke-width="1.15"/>
<path d="M692,1741.5 H751" stroke="#fff" stroke-opacity="0.6" stroke-width="1"/>
<text x="697.3" y="1760.8" font-size="16" letter-spacing="0" fill="#000" textLength="46.8" lengthAdjust="spacingAndGlyphs" >related</text>
<rect x="748.5" y="1759.5" width="15" height="15" fill="#fff" stroke="#000" stroke-width="1.1"/>
<path d="M753,1762 H760 V1769 Z" fill="#000"/>
<path d="M751,1771.6 L757.3,1765.3" stroke="#000" stroke-width="3" stroke-linecap="butt"/>
<rect x="750" y="1769.5" width="2.2" height="2.2" fill="#000"/>
<circle cx="771" cy="1754" r="7.5" fill="none" stroke="#000" stroke-width="1.1"/>
<path d="M767,1753.5 H775" stroke="#000" stroke-width="1.1"/>
<path d="M770.5,1749.5 V1757.5" stroke="#000" stroke-width="1.1"/>
<path d="M692.5,1787.5 H701 L711,1777.0 L721,1787.5 H950.0 A7,7 0 0 1 957.0,1794.5 V1843.5 A7,7 0 0 1 950.0,1850.5 H692.5 A7,7 0 0 1 685.5,1843.5 V1794.5 A7,7 0 0 1 692.5,1787.5 Z" fill="#f3f3f5" stroke="#000" stroke-width="1.05"/>
<text x="687.9" y="1805.2" font-size="14" letter-spacing="0.13" fill="#000" >A related concept, where the relationship</text>
<text x="687.9" y="1824.2" font-size="14" letter-spacing="0.13" fill="#000" >is different from 'sameAs', 'broader' or</text>
<text x="687.9" y="1843.2" font-size="14" letter-spacing="0.13" fill="#000" >'narrower'.</text>
<path d="M433.5,1875.5 H442 L452,1865.0 L462,1875.5 H956.5 A7,7 0 0 1 963.5,1882.5 V1912.5 A7,7 0 0 1 956.5,1919.5 H433.5 A7,7 0 0 1 426.5,1912.5 V1882.5 A7,7 0 0 1 433.5,1875.5 Z" fill="#e2dded" stroke="#000" stroke-width="1.05"/>
<text x="428.9" y="1893.2" font-size="14" letter-spacing="0.13" fill="#000" >A group of properites required to indicate relationships of the concept to other</text>
<text x="428.9" y="1912.2" font-size="14" letter-spacing="0.13" fill="#000" >concepts</text>
<text x="387" y="1946" font-size="16" fill="#000">0..<tspan font-size="19" dx="0.3">∞</tspan></text>
<path d="M433.6,1936.8 H522.2 A7,7 0 0 1 529.2,1943.8 V1958.4 A7,7 0 0 1 522.2,1965.4 H433.6 A7,7 0 0 1 426.6,1958.4 V1943.8 A7,7 0 0 1 433.6,1936.8 Z" fill="#d9e5f6" stroke="#111" stroke-width="1.2"/>
<path d="M438,1944.5 L444.7,1958.0 L451.4,1944.5 M441.2,1951.0 H448.2" fill="none" stroke="#1e64b4" stroke-width="1.1"/>
<text x="455" y="1957" font-size="16" letter-spacing="0" fill="#000" textLength="52.7" lengthAdjust="spacingAndGlyphs" >##other</text>
<path d="M433.5,1983.5 H442 L452,1973.0 L462,1983.5 H722.0 A7,7 0 0 1 729.0,1990.5 V2020.5 A7,7 0 0 1 722.0,2027.5 H433.5 A7,7 0 0 1 426.5,2020.5 V1990.5 A7,7 0 0 1 433.5,1983.5 Z" fill="#e2dded" stroke="#000" stroke-width="1.05"/>
<text x="428.9" y="2001.2" font-size="14" letter-spacing="0.13" fill="#000" >Extension point for provider-defined properties</text>
<text x="428.9" y="2020.2" font-size="14" letter-spacing="0.13" fill="#000" >from other namespaces</text>
<path d="M279.5,2052.5 H288 L298,2042.0 L308,2052.5 H996.5 A7,7 0 0 1 1003.5,2059.5 V2070.5 A7,7 0 0 1 996.5,2077.5 H279.5 A7,7 0 0 1 272.5,2070.5 V2059.5 A7,7 0 0 1 279.5,2052.5 Z" fill="#e2dded" stroke="#000" stroke-width="1.05"/>
<text x="274.9" y="2070.2" font-size="14" letter-spacing="0.13" fill="#000" >Flexible generic PCL-type for both controlled and uncontrolled values</text>
<path d="M272,2094 L550,2094 Q556,2094 556,2100 L556,2201 Q556,2207 550,2207 L272,2207 L272,2094 Z" fill="#fdf5eb" stroke="#7c7c7c" stroke-width="2"/>
<path d="M273.5,2095.5 L550.0,2095.5 Q554.5,2095.5 554.5,2100.0 L554.5,2201.0 Q554.5,2205.5 550.0,2205.5 L273.5,2205.5 L273.5,2095.5 Z" fill="none" stroke="#ffffff" stroke-opacity="0.85" stroke-width="1"/>
<circle cx="284" cy="2112" r="7.5" fill="none" stroke="#000" stroke-width="1.1"/>
<path d="M280,2111.5 H288" stroke="#000" stroke-width="1.1"/>
<text x="303.4" y="2119.3" font-size="17" letter-spacing="0" fill="#eba82a" >@</text>
<text x="332" y="2118.8" font-size="16" letter-spacing="0" fill="#000" textLength="65.8" lengthAdjust="spacingAndGlyphs" >Attributes</text>
<rect x="276" y="2131" width="210" height="2" fill="url(#gradSep)"/>
<path d="M292,2148.5 L537,2148.5 Q545,2148.5 545,2156.5 L545,2194.5 L292,2194.5 L292,2148.5 Z" fill="#fdebd0" stroke="#7c7c7c" stroke-width="2"/>
<path d="M293.5,2150.0 L537.0,2150.0 Q543.5,2150.0 543.5,2156.5 L543.5,2193.0 L293.5,2193.0 L293.5,2150.0 Z" fill="none" stroke="#fff" stroke-opacity="0.6" stroke-width="1"/>
<circle cx="304" cy="2168" r="7.5" fill="none" stroke="#000" stroke-width="1.1"/>
<path d="M300,2167.5 H308" stroke="#000" stroke-width="1.1"/>
<path d="M303.5,2163.5 V2171.5" stroke="#000" stroke-width="1.1"/>
<rect x="327.5" y="2162.0" width="7" height="7" fill="#f09c00" stroke="#f09c00" stroke-opacity="0.8" stroke-width="1"/>
<rect x="327.5" y="2172.0" width="7" height="7" fill="#f09c00" stroke="#f09c00" stroke-opacity="0.8" stroke-width="1"/>
<rect x="337.5" y="2172.0" width="7" height="7" fill="#f09c00" stroke="#f09c00" stroke-opacity="0.8" stroke-width="1"/>
<text x="360.5" y="2174.3" font-size="16" letter-spacing="0" fill="#000" textLength="163.0" lengthAdjust="spacingAndGlyphs" >arbitraryValueAttributes</text>
<rect x="526.5" y="2175.0" width="15" height="15" fill="#fff" stroke="#000" stroke-width="1.1"/>
<path d="M531,2177.5 H538 V2184.5 Z" fill="#000"/>
<path d="M529,2187.1 L535.3,2180.8" stroke="#000" stroke-width="3" stroke-linecap="butt"/>
<rect x="528" y="2185.0" width="2.2" height="2.2" fill="#000"/>
</svg>
</body></html>
